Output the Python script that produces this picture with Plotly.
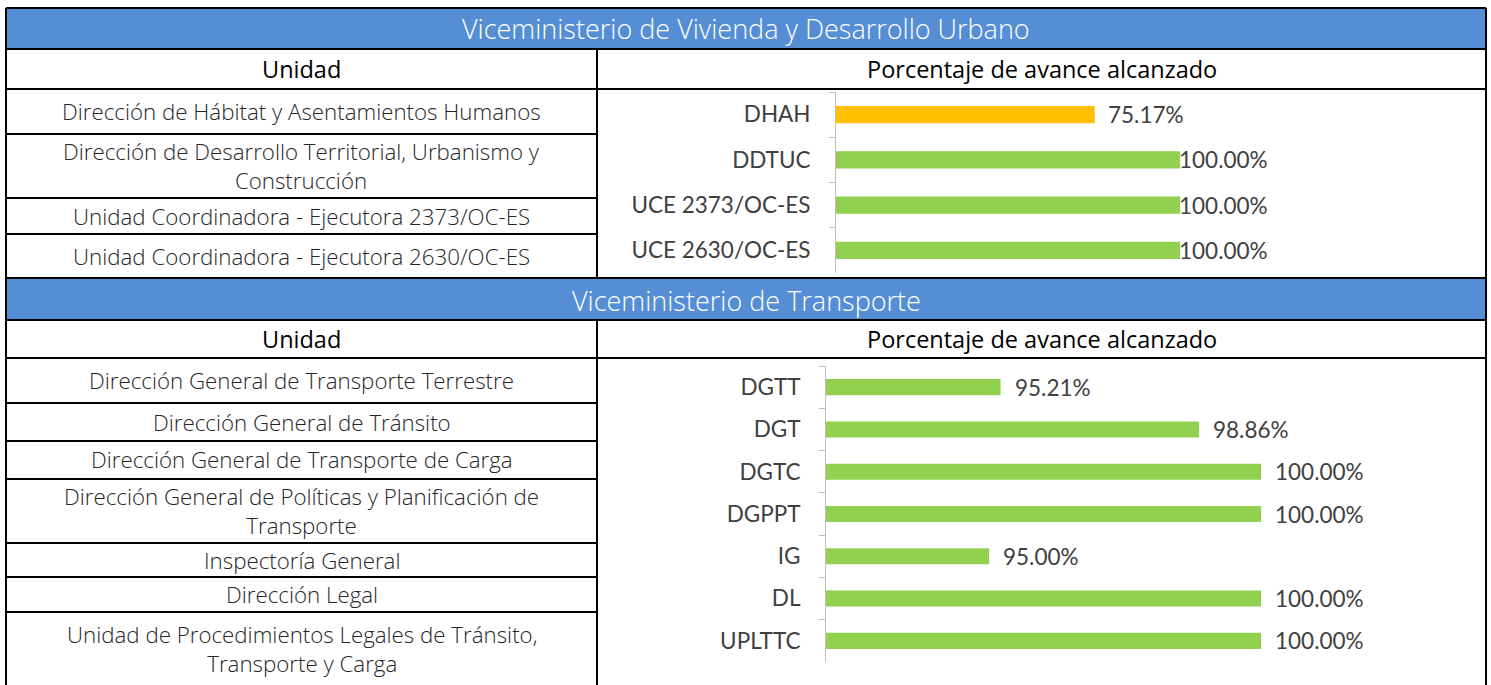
import plotly.graph_objects as go

W, H = 1491, 685

# ---------------- data ----------------
vivienda_header = "Viceministerio de Vivienda y Desarrollo Urbano"
transporte_header = "Viceministerio de Transporte"
col_unidad = "Unidad"
col_pct = "Porcentaje de avance alcanzado"

viv_units = [
    "Dirección de Hábitat y Asentamientos Humanos",
    "Dirección de Desarrollo Territorial, Urbanismo y<br>Construcción",
    "Unidad Coordinadora - Ejecutora 2373/OC-ES",
    "Unidad Coordinadora - Ejecutora 2630/OC-ES",
]
viv_codes = ["DHAH", "DDTUC", "UCE 2373/OC-ES", "UCE 2630/OC-ES"]
viv_values = [75.17, 100.00, 100.00, 100.00]

tra_units = [
    "Dirección General de Transporte Terrestre",
    "Dirección General de Tránsito",
    "Dirección General de Transporte de Carga",
    "Dirección General de Políticas y Planificación de<br>Transporte",
    "Inspectoría General",
    "Dirección Legal",
    "Unidad de Procedimientos Legales de Tránsito,<br>Transporte y Carga",
]
tra_codes = ["DGTT", "DGT", "DGTC", "DGPPT", "IG", "DL", "UPLTTC"]
tra_values = [95.21, 98.86, 100.00, 100.00, 95.00, 100.00, 100.00]

# ---------------- layout constants (pixels) ----------------
X_L, X_MID, X_R = 6, 597, 1486
BLUE = "#558ED5"
GREEN = "#92D050"
ORANGE = "#FFC000"
TXT = "#262626"
CHART_TXT = "#404040"
AXIS_GRAY = "#BFBFBF"

viv_head = (8, 49)
viv_colhead = (49, 89)
viv_rows = [89, 134, 198, 234, 278]
tra_head = (278, 320)
tra_colhead = (320, 358)
tra_rows = [358, 403, 441, 479, 543, 577, 612, 700]


def px(x):
    return x / W


def py(y):
    return 1 - y / H


shapes = []
annotations = []


def hline(y, x0, x1, w=2):
    shapes.append(dict(type="line", xref="paper", yref="paper",
                       x0=px(x0), x1=px(x1), y0=py(y), y1=py(y),
                       line=dict(color="black", width=w)))


def vline(x, y0, y1, w=2):
    shapes.append(dict(type="line", xref="paper", yref="paper",
                       x0=px(x), x1=px(x), y0=py(y0), y1=py(y1),
                       line=dict(color="black", width=w)))


def rect(x0, y0, x1, y1, color):
    shapes.append(dict(type="rect", xref="paper", yref="paper",
                       x0=px(x0), x1=px(x1), y0=py(y1), y1=py(y0),
                       fillcolor=color, line=dict(width=0), layer="below"))


def text(x, y, s, size, color, weight=300):
    annotations.append(dict(xref="paper", yref="paper", x=px(x), y=py(y),
                            text=s, showarrow=False, xanchor="center", yanchor="middle",
                            font=dict(family="Open Sans", size=size, color=color, weight=weight)))


# blue headers
rect(X_L, viv_head[0], X_R, viv_head[1], BLUE)
rect(X_L, tra_head[0], X_R, tra_head[1], BLUE)
text((X_L + X_R) / 2, sum(viv_head) / 2, vivienda_header, 27, "white")
text((X_L + X_R) / 2, sum(tra_head) / 2 + 1, transporte_header, 27, "white")

# column headers
for (a, b) in (viv_colhead, tra_colhead):
    text((X_L + X_MID) / 2, (a + b) / 2, col_unidad, 23.5, "black", 400)
    text((X_MID + X_R) / 2, (a + b) / 2, col_pct, 23.5, "black", 400)

# unit names
for i, s in enumerate(viv_units):
    text((X_L + X_MID) / 2, (viv_rows[i] + viv_rows[i + 1]) / 2, s, 22.3, TXT)
for i, s in enumerate(tra_units):
    b = min(tra_rows[i + 1], H)
    text((X_L + X_MID) / 2, (tra_rows[i] + b) / 2, s, 22.3, TXT)

# grid lines
hline(viv_head[0], X_L, X_R)
hline(viv_head[1], X_L, X_R)
hline(viv_colhead[1], X_L, X_R)
for y in viv_rows[1:-1]:
    hline(y, X_L, X_MID)
hline(tra_head[0], X_L, X_R)
hline(tra_head[1], X_L, X_R)
hline(tra_colhead[1], X_L, X_R)
for y in tra_rows[1:-1]:
    hline(y, X_L, X_MID)
vline(X_L, viv_head[0], H + 5)
vline(X_R, viv_head[0], H + 5)
vline(X_MID, viv_head[1], tra_head[0])
vline(X_MID, tra_head[1], H + 5)

# ---------------- charts ----------------
fig = go.Figure()


def bar_color(v):
    return ORANGE if v < 90 else GREEN


fig.add_trace(go.Bar(x=viv_values, y=viv_codes, orientation="h",
                     marker=dict(color=[bar_color(v) for v in viv_values], line=dict(width=0)),
                     xaxis="x", yaxis="y", hoverinfo="skip", showlegend=False))
fig.add_trace(go.Bar(x=tra_values, y=tra_codes, orientation="h",
                     marker=dict(color=[bar_color(v) for v in tra_values], line=dict(width=0)),
                     xaxis="x2", yaxis="y2", hoverinfo="skip", showlegend=False))

label_font = dict(family="Lato", size=22.5, color=CHART_TXT, weight=400)
for v, c in zip(viv_values, viv_codes):
    annotations.append(dict(xref="x", yref="y", x=v, y=c, text=f"{v:.2f}%",
                            showarrow=False, xanchor="left", yanchor="middle",
                            xshift=11 if v < 100 else -3, font=label_font))
for v, c in zip(tra_values, tra_codes):
    annotations.append(dict(xref="x2", yref="y2", x=v, y=c, text=f"{v:.2f}%",
                            showarrow=False, xanchor="left", yanchor="middle",
                            xshift=12, font=label_font))

hidden_x = dict(showgrid=False, zeroline=False, showline=False, showticklabels=False, ticks="")
cat_y = dict(type="category", autorange="reversed", showgrid=False, zeroline=False,
             showline=True, linecolor=AXIS_GRAY, linewidth=1,
             ticks="outside", tickson="boundaries", ticklen=6, tickcolor=AXIS_GRAY,
             ticklabelstandoff=20, tickfont=label_font)

fig.update_layout(
    width=W, height=H,
    margin=dict(l=0, r=0, t=0, b=0),
    paper_bgcolor="white", plot_bgcolor="rgba(0,0,0,0)",
    bargap=0.62,
    xaxis=dict(domain=[px(836), px(1280)], range=[0, 129], anchor="y", **hidden_x),
    yaxis=dict(domain=[py(273), py(92)], anchor="x", **cat_y),
    xaxis2=dict(domain=[px(826), px(1397)], range=[92, 102.5], anchor="y2", **hidden_x),
    yaxis2=dict(domain=[py(662), py(366)], anchor="x2", **cat_y),
    shapes=shapes,
    annotations=annotations,
)

fig.write_html("out.html",
               config={"displayModeBar": False},
               post_script="document.body.style.margin='0px';document.body.style.overflow='hidden';")
